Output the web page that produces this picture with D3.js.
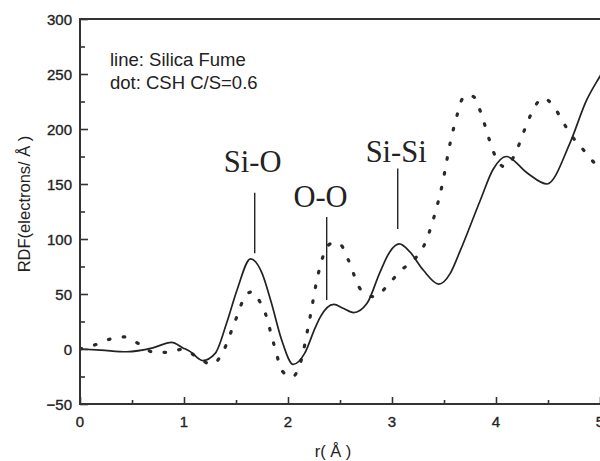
<!DOCTYPE html>
<html>
<head>
<meta charset="utf-8">
<style>
  body { margin: 0; background: #fff; }
  .tick-label { font-family: "Liberation Sans", Arial, sans-serif; font-size: 15px; fill: #222; stroke: #222; stroke-width: 0.35px; }
  .axis-title { font-family: "Liberation Sans", Arial, sans-serif; font-size: 16.5px; fill: #222; }
  .legend { font-family: "Liberation Sans", Arial, sans-serif; font-size: 18.5px; fill: #222; }
  .peak { font-family: "Liberation Serif", "Times New Roman", serif; font-size: 30.5px; fill: #222; }
</style>
</head>
<body>
<svg width="600" height="461"></svg>
<script src="https://d3js.org/d3.v7.min.js"></script>
<script>

// solid line: Silica Fume
var silicaR   = [0, 0.2, 0.45, 0.7, 0.88, 0.99, 1.06, 1.18, 1.30, 1.41, 1.51, 1.64, 1.75, 1.84, 1.94, 2.05, 2.16, 2.26, 2.31, 2.44, 2.53, 2.63, 2.76, 2.88, 2.98, 3.07, 3.17, 3.30, 3.45, 3.56, 3.65, 3.85, 3.97, 4.10, 4.30, 4.49, 4.71, 4.87, 5.0, 5.05];
var silicaRdf = [0, -1, -2.5, 1, 6, 1, -2.4, -10.5, -4, 23.6, 53.6, 82, 69, 42, 8, -14, -4, 19, 29, 40.5, 37, 33, 41.5, 68.8, 88.5, 95.5, 88.5, 71.8, 59, 68.8, 88, 135.5, 163, 175, 160, 150, 187, 226, 248, 256];

// dotted line: CSH C/S=0.6
var cshR   = [0, 0.14, 0.29, 0.43, 0.57, 0.71, 0.86, 0.99, 1.12, 1.27, 1.38, 1.49, 1.61, 1.66, 1.71, 1.78, 1.86, 1.95, 2.04, 2.12, 2.21, 2.29, 2.39, 2.45, 2.51, 2.58, 2.70, 2.83, 2.96, 3.08, 3.21, 3.31, 3.41, 3.48, 3.56, 3.63, 3.68, 3.74, 3.79, 3.85, 3.94, 3.99, 4.08, 4.17, 4.28, 4.36, 4.45, 4.56, 4.64, 4.73, 4.85, 4.97, 5.05];
var cshRdf = [0, 3.6, 9, 11, 4.5, -3, -3, 0, -7, -14, -1.5, 25, 50.6, 52, 46, 33, 5.8, -20.6, -25.5, -12.4, 28, 68, 94.5, 97, 94.5, 81, 54, 47.5, 58, 71, 81, 94.5, 122, 148, 187.5, 214, 228, 231, 229, 216, 189, 176, 165.7, 174.7, 200.6, 218, 228, 220, 207, 193.6, 180, 167, 162];

var xTicks = [0, 1, 2, 3, 4, 5];
var yTicks = [-50, 0, 50, 100, 150, 200, 250, 300];

var peakLabels = ["Si-O", "O-O", "Si-Si"];
var peakR      = [1.68, 2.372, 3.055];
var peakTextR  = [1.66, 2.313, 3.04];
var peakTextY  = [161, 129, 170];
var peakLineLo = [87, 44.5, 109];
var peakLineHi = [142, 120, 164];

var legendLines = ["line: Silica Fume", "dot: CSH C/S=0.6"];

var svg = d3.select("svg");
svg.append("rect").attr("width", 600).attr("height", 461).attr("fill", "#fff");

var x = d3.scaleLinear().domain([0, 5]).range([80, 600]);
var y = d3.scaleLinear().domain([-50, 300]).range([404, 19]);

svg.append("defs").append("clipPath").attr("id", "plot")
  .append("rect").attr("x", 80).attr("y", 19).attr("width", 520).attr("height", 385);

var line = d3.line()
  .x(function(d) { return x(d[0]); })
  .y(function(d) { return y(d[1]); })
  .curve(d3.curveMonotoneX);

var g = svg.append("g").attr("clip-path", "url(#plot)");

g.append("path")
  .datum(d3.zip(cshR, cshRdf))
  .attr("d", line)
  .attr("fill", "none")
  .attr("stroke", "#2a2a2a")
  .attr("stroke-width", 3.2)
  .attr("stroke-linecap", "round")
  .attr("stroke-dasharray", "1.6,13.4");

g.append("path")
  .datum(d3.zip(silicaR, silicaRdf))
  .attr("d", line)
  .attr("fill", "none")
  .attr("stroke", "#222")
  .attr("stroke-width", 1.7);

// axes: ticks point inward
var xAxis = d3.axisBottom(x).tickValues(d3.range(0, 5.01, 0.5)).tickSize(0).tickFormat("");
var xg = svg.append("g").attr("transform", "translate(0," + y(-50) + ")").call(xAxis);
xg.select(".domain").remove();
xg.selectAll(".tick line")
  .attr("y2", function(d) { return d % 1 === 0 ? -7 : -4; })
  .attr("stroke", "#333").attr("stroke-width", 1.6);

var yAxis = d3.axisLeft(y).tickValues(d3.range(-50, 301, 25)).tickSize(0).tickFormat("");
var yg = svg.append("g").attr("transform", "translate(" + x(0) + ",0)").call(yAxis);
yg.select(".domain").remove();
yg.selectAll(".tick line")
  .attr("x2", function(d) { return d % 50 === 0 ? 8 : 5; })
  .attr("stroke", "#333").attr("stroke-width", 1.6);

// frame: left, bottom, top
svg.append("path")
  .attr("d", "M600," + y(300) + "H" + x(0) + "V" + y(-50) + "H600")
  .attr("fill", "none").attr("stroke", "#333").attr("stroke-width", 2);

svg.selectAll(".xlab").data(xTicks).enter().append("text")
  .attr("class", "tick-label")
  .attr("x", function(d) { return x(d); })
  .attr("y", 427)
  .attr("text-anchor", "middle")
  .text(function(d) { return d; });

svg.selectAll(".ylab").data(yTicks).enter().append("text")
  .attr("class", "tick-label")
  .attr("x", 72)
  .attr("y", function(d) { return y(d) + 5.5; })
  .attr("text-anchor", "end")
  .text(function(d) { return d === -50 ? "\u221250" : d; });

svg.append("text").attr("class", "axis-title")
  .attr("x", 333).attr("y", 457)
  .attr("text-anchor", "middle")
  .text("r( Å )");

svg.append("text").attr("class", "axis-title")
  .attr("transform", "translate(30,204) rotate(-90)")
  .attr("text-anchor", "middle")
  .text("RDF(electrons/ Å )");

svg.selectAll(".legend").data(legendLines).enter().append("text")
  .attr("class", "legend")
  .attr("x", 110)
  .attr("y", function(d, i) { return 66 + i * 23; })
  .text(function(d) { return d; });

// peak annotations
peakLabels.forEach(function(lab, i) {
  svg.append("line")
    .attr("x1", x(peakR[i])).attr("x2", x(peakR[i]))
    .attr("y1", y(peakLineLo[i])).attr("y2", y(peakLineHi[i]))
    .attr("stroke", "#222").attr("stroke-width", 1.4);
  svg.append("text").attr("class", "peak")
    .attr("x", x(peakTextR[i])).attr("y", y(peakTextY[i]))
    .attr("text-anchor", "middle")
    .text(lab);
});

</script>
</body>
</html>
